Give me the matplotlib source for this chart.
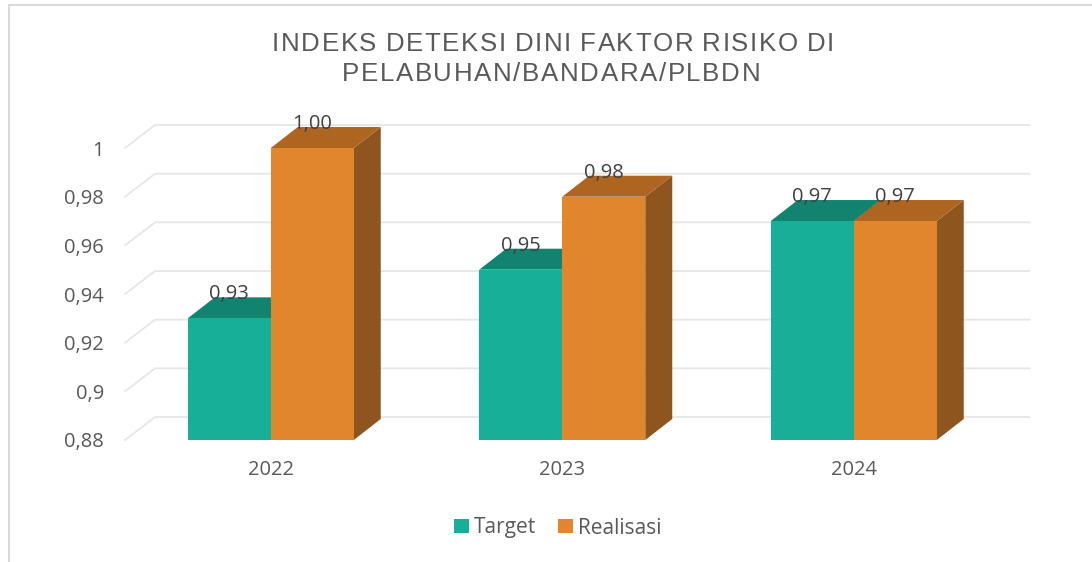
import matplotlib
matplotlib.use('Agg')
from matplotlib import pyplot as plt, patches
from matplotlib.lines import Line2D
from matplotlib.font_manager import FontProperties

years = ['2022', '2023', '2024']
target = [0.93, 0.95, 0.97]
realisasi = [1.00, 0.98, 0.97]
labels_target = ['0,93', '0,95', '0,97']
labels_realisasi = ['1,00', '0,98', '0,97']
yticks = [0.88, 0.90, 0.92, 0.94, 0.96, 0.98, 1.00]
ytick_labels = ['0,88', '0,9', '0,92', '0,94', '0,96', '0,98', '1']
series_names = ['Target', 'Realisasi']
title_lines = ['INDEKS DETEKSI DINI FAKTOR RISIKO DI', 'PELABUHAN/BANDARA/PLBDN']

# front, top, side colours per series
colors = [
    ('#17AF97', '#12836E', '#0F6E5D'),
    ('#E2862D', '#AD6520', '#8E561E'),
]

W, H = 1092, 562
fig = plt.figure(figsize=(W / 100, H / 100), dpi=100)
renderer = fig.canvas.get_renderer()

base = 0.88
ytop = 1.015
xmin, xmax = -0.5, 2.62
px_per_x = 291.5
px_per_y = 2433.0
ax_left = 125
ax_bottom = H - 440
ax_w = (xmax - xmin) * px_per_x
ax_h = (ytop - base) * px_per_y
ax = fig.add_axes([ax_left / W, ax_bottom / H, ax_w / W, ax_h / H])
ax.set_xlim(xmin, xmax)
ax.set_ylim(base, ytop)
for s in ax.spines.values():
    s.set_visible(False)

# depth of the fake 3d
bar_w = 83 / px_per_x
bdx, bdy = 27 / px_per_x, 21 / px_per_y
gdx, gdy = 30 / px_per_x, 23 / px_per_y

font = 'Open Sans'
txt = '#595959'

# gridlines: slant from the front edge to the back wall
for t in yticks:
    ax.plot([-0.5, -0.5 + gdx, 2.5 + gdx], [t, t + gdy, t + gdy],
            color='#E6E6E6', lw=1.3, clip_on=False, zorder=1)

ax.set_yticks(yticks, ytick_labels)
ax.set_xticks(range(len(years)), years)
ax.tick_params(axis='y', length=0, pad=15, labelsize=14.5, labelcolor=txt)
ax.tick_params(axis='x', length=0, pad=14.5, labelsize=14.5, labelcolor=txt)
for lab in ax.get_xticklabels() + ax.get_yticklabels():
    lab.set_family(font)

for i in range(len(years)):
    for j, vals in enumerate([target, realisasi]):
        v = vals[i]
        x0 = i - bar_w + j * bar_w
        front, top, side = colors[j]
        ax.add_patch(patches.Polygon([(x0 + bar_w, base), (x0 + bar_w + bdx, base + bdy),
                                      (x0 + bar_w + bdx, v + bdy), (x0 + bar_w, v)],
                                     closed=True, facecolor=side, edgecolor='none', zorder=3))
        ax.add_patch(patches.Polygon([(x0, v), (x0 + bar_w, v), (x0 + bar_w + bdx, v + bdy),
                                      (x0 + bdx, v + bdy)],
                                     closed=True, facecolor=top, edgecolor='none', zorder=3))
        ax.add_patch(patches.Rectangle((x0, base), bar_w, v - base,
                                       facecolor=front, edgecolor='none', zorder=3))
        lab = [labels_target, labels_realisasi][j][i]
        ax.annotate(lab, (x0 + bar_w / 2, v), xytext=(0, 10), textcoords='offset points',
                    ha='center', va='bottom', fontsize=14.5, color='#404040',
                    family=font, zorder=5)

handles = [patches.Patch(facecolor=colors[k][0], edgecolor='none', label=series_names[k])
           for k in range(2)]
fig.legend(handles=handles, loc='center', bbox_to_anchor=(558 / W, 1 - 528 / H), ncol=2,
           frameon=False, handlelength=0.7, handleheight=0.62, handletextpad=0.25,
           columnspacing=1.05, prop={'family': font, 'size': 15}, labelcolor=txt)

# title with wide letter spacing (Excel style), drawn char by char
tprop = FontProperties(family='Liberation Sans', size=18.6)
em_px = 18.6 * 100 / 72
space_px = 0.278 * em_px


def char_w(c):
    return renderer.get_text_width_height_descent(c, tprop, ismath=False)[0]


def spaced_line(text, xc, ybase, gap):
    ws = [0 if c == ' ' else char_w(c) for c in text]
    total = 0
    for c, w in zip(text, ws):
        total += space_px if c == ' ' else w + gap
    total -= gap
    x = xc - total / 2
    for c, w in zip(text, ws):
        if c == ' ':
            x += space_px
            continue
        fig.text(x / W, 1 - ybase / H, c, ha='left', va='baseline',
                 fontproperties=tprop, color=txt)
        x += w + gap


# pick the gap so that the first line is as wide as in the original
line1 = title_lines[0]
ink = sum(char_w(c) for c in line1 if c != ' ')
n_chars = sum(1 for c in line1 if c != ' ')
n_spaces = line1.count(' ')
gap = (570 - ink - n_spaces * space_px) / (n_chars + n_spaces - 1)
spaced_line(title_lines[0], 553, 51, gap)
spaced_line(title_lines[1], 551, 81, gap)

# frame edges visible in the original
fig.add_artist(Line2D([8.5 / W, 8.5 / W], [0, 1 - 4.5 / H], color='#D9D9D9', lw=1.5))
fig.add_artist(Line2D([8.5 / W, 1], [1 - 4.5 / H, 1 - 4.5 / H], color='#D9D9D9', lw=1.5))

fig.savefig('out.png', dpi=100)
